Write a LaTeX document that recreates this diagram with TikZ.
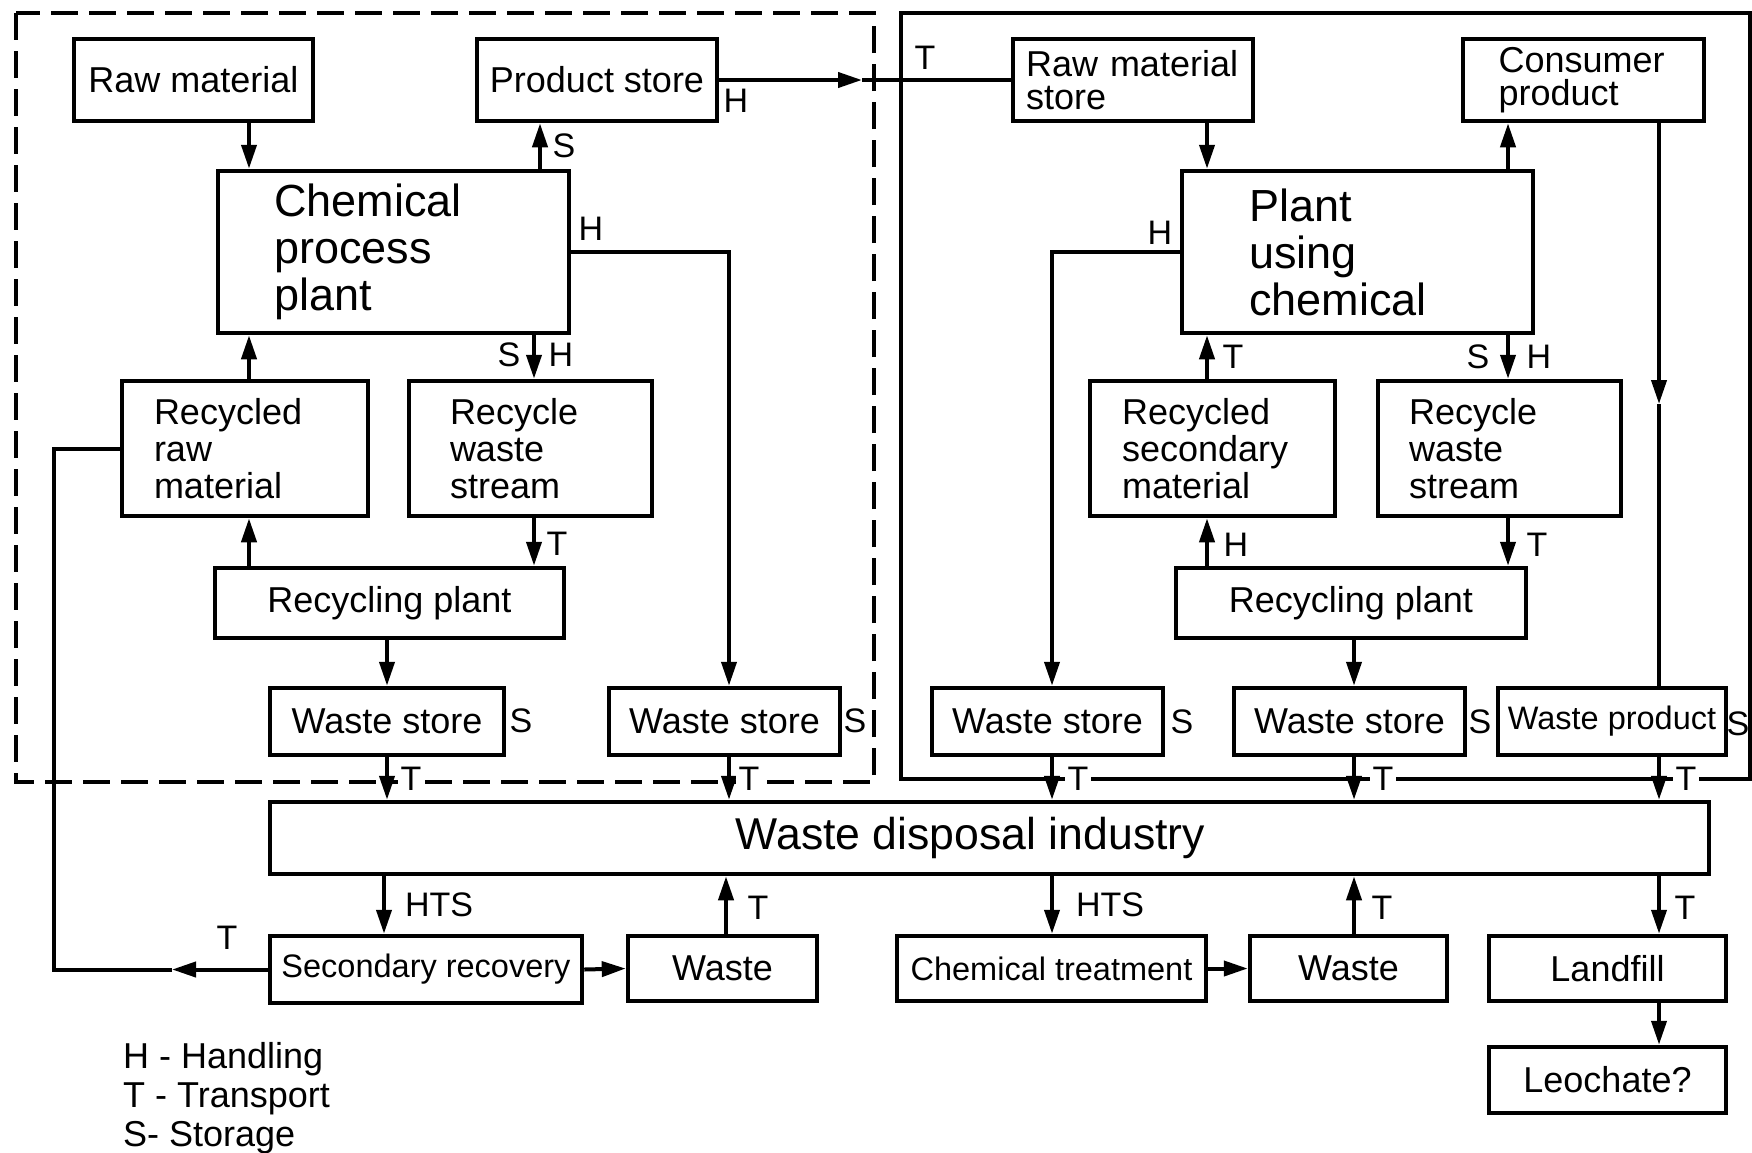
\documentclass[tikz,border=0pt]{standalone}
\usepackage{fontspec}
\setmainfont{Liberation Sans}
\usetikzlibrary{arrows.meta, positioning}

\tikzset{
    box/.style={draw, line width=4.5pt, inner sep=0pt, font=\fontsize{36}{37}\selectfont},
    bigbox/.style={box, font=\fontsize{45}{47}\selectfont},
    slimbox/.style={box, font=\fontsize{32.5}{34}\selectfont},
    flow/.style={line width=4pt},
    arr/.style={flow, -{Triangle[length=24pt, width=15pt]}},
    lbl/.style={inner sep=0pt, font=\fontsize{34}{36}\selectfont},
    cut/.style={lbl, fill=white, inner xsep=3pt, inner ysep=2pt},
    legend/.style={align=left, inner sep=0pt, font=\fontsize{36}{39}\selectfont},
}

\begin{document}
\begin{tikzpicture}[x=1pt, y=-1pt]
                    \useasboundingbox (0,0) rectangle (1752,1152);
                    \draw[line width=4pt, dash pattern=on 27pt off 11pt] (15.6,13.4) rectangle (874,782);
                    \draw[line width=4pt] (900.5,13.4) rectangle (1750,779);
                    \coordinate (cA) at (249,0);
                    \coordinate (cB) at (540,0);
                    \coordinate (cC) at (534,0);
                    \coordinate (cD) at (387,0);
                    \coordinate (cE) at (729,0);
                    \coordinate (cF) at (54,0);
                    \coordinate (cG) at (384,0);
                    \coordinate (cH) at (726,0);
                    \coordinate (cI) at (1207,0);
                    \coordinate (cJ) at (1508,0);
                    \coordinate (cK) at (1052,0);
                    \coordinate (cL) at (1354,0);
                    \coordinate (cM) at (1659,0);
                    \node[box, minimum width=239pt, minimum height=82pt] (raw) at (193.5,80) {Raw material};
                    \node[box, minimum width=240pt, minimum height=82pt] (prod) at (597,80) {Product store};
                    \node[bigbox, minimum width=351pt, minimum height=162pt, text width=239pt, align=left] (chem) at (393.5,252) {Chemical\\process\\plant};
                    \node[box, minimum width=246pt, minimum height=135pt, text width=182pt, align=left] (rrm) at (245,448.5) {Recycled\\raw\\material};
                    \node[box, minimum width=243pt, minimum height=135pt, text width=161pt, align=left] (rws) at (530.5,448.5) {Recycle\\waste\\stream};
                    \node[box, minimum width=349pt, minimum height=70pt] (rpl) at (389.5,603) {Recycling plant};
                    \node[box, minimum width=234pt, minimum height=67pt] (ws1) at (387,721.5) {Waste store};
                    \node[box, minimum width=231pt, minimum height=67pt] (ws2) at (724.5,721.5) {Waste store};
                    \node[box, minimum width=240pt, minimum height=82pt, text width=214pt, align=left, font=\fontsize{36}{33}\selectfont] (rms) at (1133,80) {Raw material\\store};
                    \node[box, minimum width=241pt, minimum height=82pt, text width=170pt, align=left, font=\fontsize{36}{33}\selectfont] (cp) at (1583.5,80) {Consumer\\product};
                    \node[bigbox, minimum width=351pt, minimum height=162pt, text width=217pt, align=left] (puc) at (1357.5,252) {Plant\\using\\chemical};
                    \node[box, minimum width=245pt, minimum height=135pt, text width=181pt, align=left] (rsm) at (1212.5,448.5) {Recycled\\secondary\\material};
                    \node[box, minimum width=243pt, minimum height=135pt, text width=181pt, align=left] (rwsR) at (1499.5,448.5) {Recycle\\waste\\stream};
                    \node[box, minimum width=350pt, minimum height=70pt] (rplR) at (1351,603) {Recycling plant};
                    \node[box, minimum width=231pt, minimum height=67pt] (ws3) at (1047.5,721.5) {Waste store};
                    \node[box, minimum width=231pt, minimum height=67pt] (ws4) at (1349.5,721.5) {Waste store};
                    \node[slimbox, minimum width=228pt, minimum height=67pt] (wp) at (1612,721.5) {Waste product};
                    \node[box, minimum width=1439pt, minimum height=72pt, font=\fontsize{44.6}{46}\selectfont] (wdi) at (989.5,838) {Waste disposal industry\hspace*{38pt}};
                    \node[slimbox, minimum width=312pt, minimum height=67pt] (sr) at (426,969.5) {Secondary recovery};
                    \node[box, minimum width=189pt, minimum height=65pt] (wL) at (722.5,968.5) {Waste};
                    \node[slimbox, minimum width=309pt, minimum height=65pt] (ct) at (1051.5,968.5) {Chemical treatment};
                    \node[box, minimum width=197pt, minimum height=65pt] (wR) at (1348.5,968.5) {Waste};
                    \node[box, minimum width=237pt, minimum height=65pt] (lf) at (1607.5,968.5) {Landfill};
                    \node[box, minimum width=237pt, minimum height=66pt] (leo) at (1607.5,1080) {Leochate?};
                    \node[legend, anchor=north west] (key) at (123,1042) {H - Handling\\T - Transport\\S- Storage};
                    \coordinate (pArr) at (862,80);
                    \coordinate (fArr) at (172,969.5);
                    \coordinate (cArr) at (1659,404);
                    \draw[arr] (raw.south -| cA) -- (chem.north -| cA);
                    \draw[arr] (chem.north -| cB) -- (prod.south -| cB);
                    \draw[arr] (prod.east) -- (pArr);
                    \draw[flow] (pArr) -- (rms.west);
                    \draw[arr] (chem.east) -| (ws2.north -| cE);
                    \draw[arr] (chem.south -| cC) -- (rws.north -| cC);
                    \draw[arr] (rrm.north -| cA) -- (chem.south -| cA);
                    \draw[arr] (rws.south -| cC) -- (rpl.north -| cC);
                    \draw[arr] (rpl.north -| cA) -- (rrm.south -| cA);
                    \draw[arr] (rpl.south -| cD) -- (ws1.north -| cD);
                    \draw[arr] (ws1.south -| cD) -- (wdi.north -| cD);
                    \draw[arr] (ws2.south -| cE) -- (wdi.north -| cE);
                    \draw[arr] (sr.west) -- (fArr);
                    \draw[flow] (fArr) -| (rrm.west -| cF) -- (rrm.west);
                    \draw[arr] (rms.south -| cI) -- (puc.north -| cI);
                    \draw[arr] (puc.north -| cJ) -- (cp.south -| cJ);
                    \draw[arr] (puc.west) -| (ws3.north -| cK);
                    \draw[arr] (cp.south -| cM) -- (cArr);
                    \draw[flow] (cArr) -- (wp.north -| cM);
                    \draw[arr] (rsm.north -| cI) -- (puc.south -| cI);
                    \draw[arr] (puc.south -| cJ) -- (rwsR.north -| cJ);
                    \draw[arr] (rplR.north -| cI) -- (rsm.south -| cI);
                    \draw[arr] (rwsR.south -| cJ) -- (rplR.north -| cJ);
                    \draw[arr] (rplR.south -| cL) -- (ws4.north -| cL);
                    \draw[arr] (ws3.south -| cK) -- (wdi.north -| cK);
                    \draw[arr] (ws4.south -| cL) -- (wdi.north -| cL);
                    \draw[arr] (wp.south -| cM) -- (wdi.north -| cM);
                    \draw[arr] (wdi.south -| cG) -- (sr.north -| cG);
                    \draw[arr] (wL.north -| cH) -- (wdi.south -| cH);
                    \draw[arr] (sr.east) -- (wL.west);
                    \draw[arr] (wdi.south -| cK) -- (ct.north -| cK);
                    \draw[arr] (wR.north -| cL) -- (wdi.south -| cL);
                    \draw[arr] (ct.east) -- (wR.west);
                    \draw[arr] (wdi.south -| cM) -- (lf.north -| cM);
                    \draw[arr] (lf.south -| cM) -- (leo.north -| cM);
                    \node[lbl] (sA) at (564,146) {S};
                    \node[lbl] (hA) at (736,101) {H};
                    \node[lbl] (tA) at (925,58) {T};
                    \node[lbl] (hB) at (591,229) {H};
                    \node[lbl] (sB) at (509,355) {S};
                    \node[lbl] (hC) at (561,355) {H};
                    \node[lbl] (tB) at (557,544) {T};
                    \node[lbl] (sC) at (521,721) {S};
                    \node[lbl] (sD) at (855,721) {S};
                    \node[cut] (tC) at (411,779) {T};
                    \node[cut] (tD) at (749,779) {T};
                    \node[lbl] (hD) at (1160,233) {H};
                    \node[lbl] (tE) at (1233,357) {T};
                    \node[lbl] (sE) at (1478,357) {S};
                    \node[lbl] (hE) at (1539,357) {H};
                    \node[lbl] (hF) at (1236,545) {H};
                    \node[lbl] (tF) at (1537,545) {T};
                    \node[lbl] (sF) at (1182,722) {S};
                    \node[lbl] (sG) at (1480,722) {S};
                    \node[lbl] (sH) at (1738,724) {S};
                    \node[cut] (tG) at (1078,779) {T};
                    \node[cut] (tH) at (1383,779) {T};
                    \node[cut] (tI) at (1686,779) {T};
                    \node[lbl] (htsA) at (439,905) {HTS};
                    \node[lbl] (tJ) at (227,938) {T};
                    \node[lbl] (tK) at (758,908) {T};
                    \node[lbl] (htsB) at (1110,905) {HTS};
                    \node[lbl] (tL) at (1382,908) {T};
                    \node[lbl] (tM) at (1685,908) {T};
                \end{tikzpicture}
\end{document}
